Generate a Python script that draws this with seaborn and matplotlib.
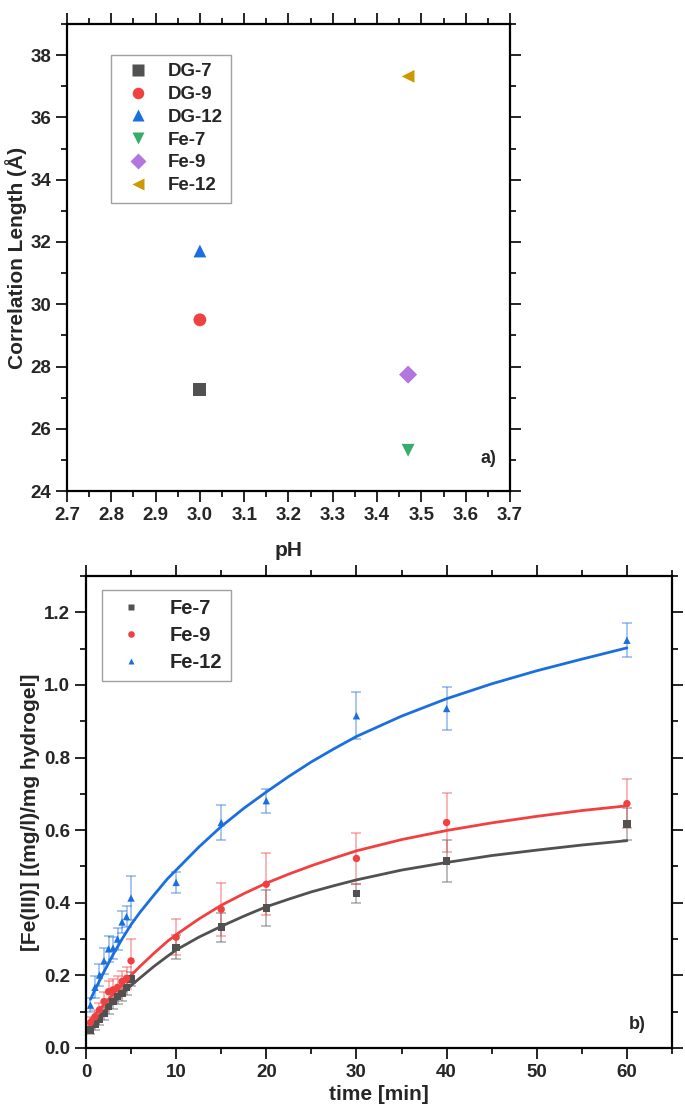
import pandas as pd
import seaborn as sns
import matplotlib.pyplot as plt
from matplotlib import font_manager
from matplotlib.ticker import MultipleLocator

# ---- panel a) correlation length vs pH ----
samples_a = ['DG-7', 'DG-9', 'DG-12', 'Fe-7', 'Fe-9', 'Fe-12']
ph_a = [3.0, 3.0, 3.0, 3.47, 3.47, 3.47]
corr_length = [27.26, 29.5, 31.71, 25.31, 27.74, 37.32]

# ---- panel b) Fe(III) uptake vs time ----
time_min = [0.5, 1, 1.5, 2, 2.5, 3, 3.5, 4, 4.5, 5, 10, 15, 20, 30, 40, 60]
fe7 = [0.05, 0.065, 0.079, 0.095, 0.114, 0.128, 0.141, 0.15, 0.167, 0.19,
       0.277, 0.333, 0.386, 0.425, 0.515, 0.617]
fe7_err = [0.012, 0.015, 0.015, 0.018, 0.02, 0.02, 0.02, 0.02, 0.02, 0.02,
           0.033, 0.04, 0.049, 0.026, 0.057, 0.044]
fe9 = [0.07, 0.086, 0.105, 0.128, 0.155, 0.16, 0.167, 0.183, 0.192, 0.24,
       0.305, 0.382, 0.451, 0.522, 0.621, 0.673]
fe9_err = [0.015, 0.02, 0.02, 0.025, 0.03, 0.03, 0.03, 0.03, 0.03, 0.06,
           0.05, 0.073, 0.085, 0.07, 0.08, 0.067]
fe12 = [0.118, 0.167, 0.201, 0.24, 0.273, 0.275, 0.30, 0.347, 0.362, 0.413,
        0.456, 0.621, 0.681, 0.915, 0.935, 1.123]
fe12_err = [0.02, 0.03, 0.03, 0.035, 0.035, 0.03, 0.03, 0.03, 0.03, 0.06,
            0.03, 0.048, 0.033, 0.065, 0.058, 0.047]

# fitted curves, values
fit_time = [0.5, 1, 2, 3, 4, 5, 6, 7.5, 9, 10, 12.5, 15, 17.5, 20, 22.5, 25, 27.5, 30,
            35, 40, 45, 50, 55, 60]
fit_fe7 = [0.062, 0.075, 0.1, 0.124, 0.148, 0.172, 0.193, 0.224, 0.252, 0.27, 0.305, 0.335,
           0.363, 0.389, 0.41, 0.43, 0.447, 0.463, 0.49, 0.511, 0.53, 0.545, 0.559, 0.571]
fit_fe9 = [0.078, 0.092, 0.12, 0.148, 0.174, 0.2, 0.225, 0.26, 0.293, 0.312, 0.355, 0.393,
           0.425, 0.454, 0.479, 0.502, 0.523, 0.543, 0.574, 0.599, 0.62, 0.638, 0.654, 0.667]
fit_fe12 = [0.134, 0.16, 0.21, 0.257, 0.3, 0.34, 0.374, 0.42, 0.465, 0.49, 0.553, 0.61,
            0.66, 0.705, 0.748, 0.788, 0.824, 0.858, 0.914, 0.962, 1.003, 1.039, 1.071, 1.102]

colors = ['#515151', '#F14040', '#1A6FDF', '#37AD6B', '#B177DE', '#CC9900']
markers_a = ['s', 'o', '^', 'v', 'D', '<']

sns.set_style('ticks')
names = {f.name for f in font_manager.fontManager.ttflist}
fam = 'Liberation Sans' if 'Liberation Sans' in names else 'DejaVu Sans'
plt.rcParams['font.family'] = [fam, 'DejaVu Sans']
plt.rcParams['font.weight'] = 'bold'
plt.rcParams['axes.labelweight'] = 'bold'

fig = plt.figure(figsize=(6.85, 11.15), dpi=100)
ax1 = fig.add_axes([0.0978, 0.5596, 0.6467, 0.4188])
ax2 = fig.add_axes([0.1255, 0.0601, 0.8555, 0.4233])

df_a = pd.DataFrame({'pH': ph_a, 'corr': corr_length, 'sample': samples_a})
sns.scatterplot(data=df_a, x='pH', y='corr', hue='sample', style='sample',
                palette=dict(zip(samples_a, colors)),
                markers=dict(zip(samples_a, markers_a)),
                s=85, edgecolor='none', ax=ax1)
sns.move_legend(ax1, loc='upper left', bbox_to_anchor=(0.099, 0.934), title=None,
                frameon=True, fancybox=False, edgecolor='#888888', fontsize=13.5,
                labelspacing=0.3, borderpad=0.45, handletextpad=0.6, borderaxespad=0,
                markerscale=0.9)
ax1.set_xlim(2.7, 3.7)
ax1.set_ylim(24, 39)
ax1.xaxis.set_major_locator(MultipleLocator(0.1))
ax1.xaxis.set_minor_locator(MultipleLocator(0.05))
ax1.yaxis.set_major_locator(MultipleLocator(2))
ax1.yaxis.set_minor_locator(MultipleLocator(1))
ax1.xaxis.set_major_formatter(plt.FormatStrFormatter('%.1f'))
ax1.set_xlabel('pH', fontsize=15, labelpad=12)
ax1.set_ylabel('Correlation Length (Å)', fontsize=15, labelpad=2)
ax1.text(0.97, 0.07, 'a)', transform=ax1.transAxes, ha='right', va='center',
         fontsize=13, fontweight='bold')

# panel b
series_b = ['Fe-7', 'Fe-9', 'Fe-12']
values_b = [fe7, fe9, fe12]
errors_b = [fe7_err, fe9_err, fe12_err]
fits_b = [fit_fe7, fit_fe9, fit_fe12]
markers_b = ['s', 'o', '^']

df_b = pd.concat([pd.DataFrame({'time': time_min, 'val': v, 'sample': n})
                  for n, v in zip(series_b, values_b)])
df_fit = pd.concat([pd.DataFrame({'time': fit_time, 'val': v, 'sample': n})
                    for n, v in zip(series_b, fits_b)])
pal_b = dict(zip(series_b, colors[:3]))

for n, v, e in zip(series_b, values_b, errors_b):
    ax2.errorbar(time_min, v, yerr=e, fmt='none', ecolor=pal_b[n], alpha=0.45,
                 elinewidth=1.2, capsize=3.5, capthick=1.2, zorder=1)
sns.lineplot(data=df_fit, x='time', y='val', hue='sample', palette=pal_b,
             linewidth=2, legend=False, ax=ax2, zorder=2)
sns.scatterplot(data=df_b, x='time', y='val', hue='sample', style='sample',
                palette=pal_b, markers=dict(zip(series_b, markers_b)),
                s=28, edgecolor='none', ax=ax2, zorder=3)
sns.move_legend(ax2, loc='upper left', bbox_to_anchor=(0.027, 0.97), title=None,
                frameon=True, fancybox=False, edgecolor='#888888', fontsize=14.5,
                labelspacing=0.4, borderpad=0.45, handletextpad=0.9, borderaxespad=0,
                markerscale=0.9)
ax2.set_xlim(0, 65)
ax2.set_ylim(0, 1.3)
ax2.xaxis.set_major_locator(MultipleLocator(10))
ax2.xaxis.set_minor_locator(MultipleLocator(5))
ax2.yaxis.set_major_locator(MultipleLocator(0.2))
ax2.yaxis.set_minor_locator(MultipleLocator(0.1))
ax2.yaxis.set_major_formatter(plt.FormatStrFormatter('%.1f'))
ax2.set_xlabel('time [min]', fontsize=15, labelpad=3)
ax2.set_ylabel('[Fe(III)] [(mg/l)/mg hydrogel]', fontsize=15, labelpad=3)
ax2.text(0.955, 0.049, 'b)', transform=ax2.transAxes, ha='right', va='center',
         fontsize=13, fontweight='bold')

for ax in (ax1, ax2):
    for sp in ax.spines.values():
        sp.set_visible(True)
        sp.set_linewidth(1.6)
        sp.set_color('black')
    ax.tick_params(which='both', direction='out', top=True, right=True,
                   labeltop=False, labelright=False, width=1.4, labelsize=13.5)
    ax.tick_params(which='major', length=8)
    ax.tick_params(which='minor', length=4)
    for lab in ax.get_xticklabels() + ax.get_yticklabels():
        lab.set_fontweight('bold')

fig.savefig('out.png', dpi=100)
